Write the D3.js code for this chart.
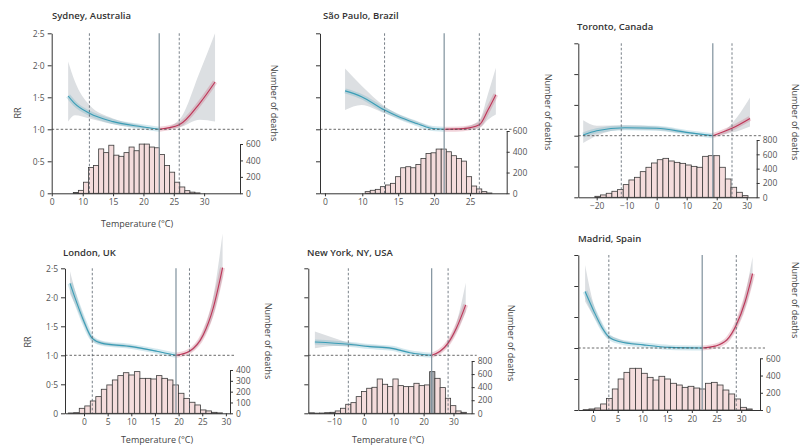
<!DOCTYPE html>
<html>
<head>
<meta charset="utf-8">
<script src="https://cdn.jsdelivr.net/npm/d3@7"></script>
<style>
body { margin: 0; background: #fff; }
svg text { font-family: "Open Sans", "Noto Sans", sans-serif; }
</style>
</head>
<body>
<div id="chart-area"></div>
<script>
// temperature (°C) vs relative risk
var cities = ["Sydney, Australia", "São Paulo, Brazil", "Toronto, Canada", "London, UK", "New York, NY, USA", "Madrid, Spain"]
var mmt = [22.6, 21.4, 18.7, 19.45, 22.7, 22.1]
var coldCut = [11.1, 13.1, -11.8, 1.75, -5.2, 3.2]
var heatCut = [25.9, 26.3, 25.1, 22.3, 28.2, 29.0]

var sydneyCurve = [[7.6,1.52],[8.7,1.40],[11.1,1.25],[15,1.12],[19.7,1.04],[22.6,1],[25.9,1.07],[29.3,1.41],[31.8,1.74]]
var sydneyBand = [[7.6,1.12,2.06],[8.7,1.22,1.75],[11.1,1.17,1.38],[15,1.08,1.17],[19.7,1.02,1.06],[22.6,1,1],[25.9,1.03,1.15],[29.3,1.15,1.9],[31.8,1.12,2.5]]
var sydneyDeaths = [9,36,135,315,338,540,495,585,464,450,495,563,518,599,599,563,554,473,338,257,135,77,32,14,5]

var spCurve = [[7.6,1.6],[9.9,1.51],[13.1,1.3],[15,1.2],[17.6,1.09],[19.4,1.02],[21.4,1],[24.1,1.01],[26.3,1.07],[27.5,1.3],[28.6,1.54]]
var spBand = [[7.6,1.3,1.95],[9.9,1.38,1.68],[13.1,1.25,1.36],[17.6,1.07,1.12],[21.4,1,1],[24.1,0.99,1.03],[26.3,1.02,1.14],[27.5,1.15,1.55],[28.6,1.23,1.96]]
var spDeaths = [16,29,38,64,80,96,160,246,256,246,278,336,384,390,426,426,400,362,336,310,160,70,42,16,3]

var torontoCurve = [[-24.5,1.01],[-20,1.08],[-10.6,1.13],[0,1.12],[10.5,1.05],[18.7,1],[25.1,1.12],[31.1,1.28]]
var torontoBand = [[-24.5,0.88,1.25],[-20,1.0,1.16],[-10.6,1.1,1.17],[0,1.09,1.15],[10.5,1.03,1.07],[18.7,1,1],[25.1,1.05,1.2],[31.1,1.15,1.62]]
var torontoDeaths = [14,33,56,84,107,177,242,279,358,419,479,525,544,507,488,474,451,432,419,572,581,581,419,256,140,70,23]

var londonCurve = [[-2.96,2.24],[-1.9,1.99],[-0.15,1.61],[1.75,1.29],[3.7,1.21],[10.1,1.15],[15.4,1.07],[19.45,1],[22.3,1.07],[25.2,1.35],[27.3,1.81],[29.3,2.51]]
var londonBand = [[-2.96,2.06,2.45],[-1.9,1.88,2.12],[-0.15,1.55,1.68],[1.75,1.25,1.33],[3.7,1.18,1.24],[10.1,1.13,1.17],[15.4,1.06,1.08],[19.45,1,1],[22.3,1.05,1.09],[25.2,1.3,1.42],[27.3,1.68,2.0],[29.3,2.35,3.1]]
var londonDeaths = [3,6,46,68,114,154,222,262,308,348,375,354,385,323,323,317,348,323,308,262,185,138,102,77,31,22,9,4]

var nyCurve = [[-16.4,1.23],[-5,1.19],[2,1.15],[9.3,1.12],[15.4,1.045],[22.7,1],[25.5,1.07],[28.2,1.21],[31,1.47],[34.1,1.87]]
var nyBand = [[-16.4,1.12,1.41],[-10,1.16,1.3],[-5,1.16,1.22],[9.3,1.1,1.14],[22.7,1,1],[28.2,1.17,1.25],[31,1.4,1.56],[34.1,1.75,2.25]]
var nyDeaths = [8,2,4,10,15,36,77,138,163,255,332,383,398,525,444,408,525,423,408,408,459,423,434,637,535,393,230,117,36,15]

var madridCurve = [[-1.6,1.91],[0.07,1.61],[1.75,1.34],[3.2,1.18],[5.5,1.1],[10.2,1.05],[15.6,1.01],[22.1,1],[24.7,1.03],[27.1,1.13],[29,1.37],[30.8,1.75],[32.3,2.2]]
var madridBand = [[-1.6,1.75,2.34],[0.07,1.52,1.72],[1.75,1.3,1.4],[3.2,1.15,1.21],[10.2,1.04,1.06],[22.1,1,1],[27.1,1.11,1.15],[29,1.32,1.42],[30.8,1.65,1.87],[32.3,2.07,2.47]]
var madridDeaths = [4,12,23,70,135,244,360,437,484,484,426,379,348,391,360,310,290,263,275,255,244,310,321,290,232,186,128,31,12]

// histogram bins: first bin start and width (°C)
var binStart = [8.45, 10.4, -20.6, -3.33, -18.37, -2.0]
var binWidth = [0.835, 0.706, 1.89, 1.165, 1.756, 1.18]

var xTicks = [[10,15,20,25,30],[10,15,20,25],[-20,-10,0,10,20,30],[0,5,10,15,20,25,30],[-10,0,10,20,30],[0,5,10,15,20,25,30]]
var rrTicks = [0, 0.5, 1, 1.5, 2, 2.5]
var deathTicks = [[0,200,400,600],[0,200,400,600],[0,200,400,600,800],[0,100,200,300,400],[0,200,400,600,800],[0,200,400,600]]
var brokenZero = [4.9, 4.8, null, null, null, null]

var curves = [sydneyCurve, spCurve, torontoCurve, londonCurve, nyCurve, madridCurve]
var bands = [sydneyBand, spBand, torontoBand, londonBand, nyBand, madridBand]
var deaths = [sydneyDeaths, spDeaths, torontoDeaths, londonDeaths, nyDeaths, madridDeaths]

// layout of each panel on the page
var layout = [
	{left: 51.7, right: 240, tMin: 4.89, tMax: 35.91, top: 33.3, bottom: 193.3, histTop: 144, title: [52, 19], rr: [21, 113], side: [271, 103], xlab: [137, 227], yLabels: true},
	{left: 320, right: 506.7, tMin: 4.11, tMax: 30.11, top: 33.3, bottom: 193.3, histTop: 131, title: [323, 19], side: [545, 112]},
	{left: 578.3, right: 756.7, tMin: -26.13, tMax: 33.33, top: 43.3, bottom: 197.3, histTop: 140, title: [577, 30], side: [792, 122]},
	{left: 65, right: 230, tMin: -4.02, tMax: 30.87, top: 268.3, bottom: 413.3, histTop: 370, title: [63, 256], rr: [31, 342], side: [265, 341], xlab: [157, 443], yLabels: true},
	{left: 308.3, right: 471.7, tMin: -18.6, tMax: 36.1, top: 268.3, bottom: 413.3, histTop: 361, title: [307, 256], side: [508, 343], xlab: [388, 443], shadeMmt: true},
	{left: 578.3, right: 760, tMin: -2.98, tMax: 33.8, top: 255, bottom: 410, histTop: 358.3, title: [578, 242], side: [792, 300]}
]

var coldColor = "#3a9db6"
var heatColor = "#bf3558"

var svg = d3.select("#chart-area")
			.append("svg")
			.attr("width", 801)
			.attr("height", 448)

svg.append("rect").attr("width", 801).attr("height", 448).attr("fill", "#fff")

function rrLabel(d) {
	return d === 0 ? "0" : d3.format(".1f")(d).replace(".", "·")
}

layout.forEach(function(p, k){
	var g = svg.append("g")
	var x = d3.scaleLinear().domain([p.tMin, p.tMax]).range([p.left, p.right])
	var y = d3.scaleLinear().domain([0, 2.5]).range([p.bottom, p.top])
	var histMax = d3.max(deathTicks[k])
	var yh = d3.scaleLinear().domain([0, histMax]).range([p.bottom, p.histTop])

	// confidence band
	var area = d3.area()
				.x(function(d){ return x(d[0]) })
				.y0(function(d){ return y(d[1]) })
				.y1(function(d){ return y(d[2]) })
				.curve(d3.curveMonotoneX)
	g.append("path")
		.attr("d", area(bands[k]))
		.attr("fill", "#dcdfe2")

	// RR curve, cold part and heat part
	var line = d3.line()
				.x(function(d){ return x(d[0]) })
				.y(function(d){ return y(d[1]) })
				.curve(d3.curveMonotoneX)
	var cold = curves[k].filter(function(d){ return d[0] <= mmt[k] })
	var heat = curves[k].filter(function(d){ return d[0] >= mmt[k] })
	;[[cold, coldColor], [heat, heatColor]].forEach(function(c){
		g.append("path").attr("d", line(c[0])).attr("fill", "none")
			.attr("stroke", c[1]).attr("stroke-opacity", 0.22).attr("stroke-width", 5)
		g.append("path").attr("d", line(c[0])).attr("fill", "none")
			.attr("stroke", c[1]).attr("stroke-width", 1.1)
	})

	// histogram of deaths
	var w = x(binStart[k] + binWidth[k]) - x(binStart[k])
	g.selectAll("rect.bin").data(deaths[k]).enter()
		.append("rect")
		.attr("class", "bin")
		.attr("x", function(d, i){ return x(binStart[k] + i * binWidth[k]) })
		.attr("y", function(d){ return yh(d) })
		.attr("width", w)
		.attr("height", function(d){ return p.bottom - yh(d) })
		.attr("fill", function(d, i){
			var a = binStart[k] + i * binWidth[k]
			if (p.shadeMmt && mmt[k] >= a && mmt[k] < a + binWidth[k]) return "#a7a9ad"
			return "#f4dcdc"
		})
		.attr("stroke", "#3a3a3a")
		.attr("stroke-width", 0.8)

	// reference lines
	g.append("line")
		.attr("x1", p.left).attr("x2", p.right + 5)
		.attr("y1", y(1)).attr("y2", y(1))
		.attr("stroke", "#444").attr("stroke-width", 0.8).attr("stroke-dasharray", "2.5,2")
	;[coldCut[k], heatCut[k]].forEach(function(t){
		g.append("line")
			.attr("x1", x(t)).attr("x2", x(t))
			.attr("y1", y(2.5)).attr("y2", p.bottom)
			.attr("stroke", "#55606a").attr("stroke-width", 0.8).attr("stroke-dasharray", "2.5,2")
	})
	g.append("line")
		.attr("x1", x(mmt[k])).attr("x2", x(mmt[k]))
		.attr("y1", y(2.5)).attr("y2", p.bottom)
		.attr("stroke", "#7f919c").attr("stroke-width", 1.2)

	// axes
	var left = g.append("g")
		.attr("transform", "translate(" + p.left + ",0)")
		.call(d3.axisLeft(y).tickValues(rrTicks).tickSize(4).tickSizeOuter(0)
			.tickFormat(p.yLabels ? rrLabel : ""))
	var tv = xTicks[k].slice()
	if (brokenZero[k] !== null) tv.unshift(brokenZero[k])
	var bottom = g.append("g")
		.attr("transform", "translate(0," + p.bottom + ")")
		.call(d3.axisBottom(x).tickValues(tv).tickSize(3).tickSizeOuter(0)
			.tickFormat(function(d){ return d === brokenZero[k] ? "0" : d3.format("d")(d).replace("-", "−") }))
	var right = g.append("g")
		.attr("transform", "translate(" + p.right + ",0)")
		.call(d3.axisRight(yh).tickValues(deathTicks[k]).tickSize(3).tickSizeOuter(0))
	;[left, bottom, right].forEach(function(a){
		a.select(".domain").attr("stroke", "#333").attr("stroke-width", 1)
		a.selectAll(".tick line").attr("stroke", "#333")
		a.selectAll("text").attr("fill", "#555").attr("font-size", 8.5)
	})

	// texts
	g.append("text")
		.attr("x", p.title[0]).attr("y", p.title[1])
		.attr("font-size", 9.5).attr("font-weight", 600).attr("fill", "#333")
		.text(cities[k])
	g.append("text")
		.attr("transform", "translate(" + p.side[0] + "," + p.side[1] + ") rotate(90)")
		.attr("text-anchor", "middle").attr("font-size", 9).attr("fill", "#444")
		.text("Number of deaths")
	if (p.rr) {
		g.append("text")
			.attr("transform", "translate(" + p.rr[0] + "," + p.rr[1] + ") rotate(-90)")
			.attr("text-anchor", "middle").attr("font-size", 9).attr("fill", "#444")
			.text("RR")
	}
	if (p.xlab) {
		g.append("text")
			.attr("x", p.xlab[0]).attr("y", p.xlab[1])
			.attr("text-anchor", "middle").attr("font-size", 9).attr("fill", "#444")
			.text("Temperature (°C)")
	}
})
</script>
</body>
</html>
